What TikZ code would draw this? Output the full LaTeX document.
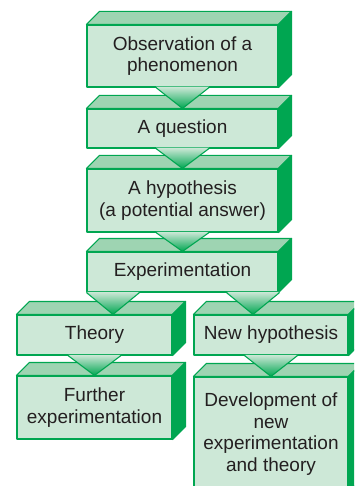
\documentclass[tikz,border=0pt]{standalone}
\usepackage{fontspec}
\setmainfont{Liberation Sans}
\usetikzlibrary{calc}
\definecolor{facegreen}{RGB}{205,232,215}
\definecolor{topgreen}{RGB}{158,212,178}
\definecolor{sidegreen}{RGB}{0,166,81}
\definecolor{inkgray}{RGB}{35,31,32}

\begin{document}
\begin{tikzpicture}[x=1pt, y=-1pt, line join=round,
  stage/.style={draw=sidegreen, line width=1.1pt, fill=facegreen, inner sep=0pt,
                align=center, text=inkgray, font=\fontsize{19}{21.5}\selectfont},
  topface/.style={draw=sidegreen, line width=1.1pt, fill=topgreen},
  sideface/.style={draw=sidegreen, line width=1.1pt, fill=sidegreen}]
  \useasboundingbox (0,0) rectangle (354,486);
  \clip (0,0) rectangle (354,486);
  \node[stage, minimum width=191pt, minimum height=62pt] (obs) at (182.5,56) {Observation of a\\phenomenon};
  \node[stage, minimum width=191pt, minimum height=39pt] (quest) at (182.5,128.5) {A question};
  \node[stage, minimum width=191pt, minimum height=63pt] (hypo) at (182.5,200.5) {A hypothesis\\(a potential answer)};
  \node[stage, minimum width=191pt, minimum height=40pt] (expt) at (182.5,272) {Experimentation};
  \node[stage, minimum width=155pt, minimum height=40pt] (theory) at (94.5,335) {Theory};
  \node[stage, minimum width=154pt, minimum height=40pt] (newhyp) at (271,335) {New hypothesis};
  \node[stage, minimum width=155pt, minimum height=63pt] (further) at (94.5,407.5) {Further\\experimentation};
  \node[stage, minimum width=154pt, minimum height=114pt] (devel) at (271,434) {Development of\\new\\experimentation\\and theory};
  % top and side of each box
  \foreach \n in {obs,quest,hypo,expt,theory,newhyp,further,devel} {
    \draw[topface] (\n.north west) -- ++(13,-13) -- ([shift={(13,-13)}]\n.north east) -- (\n.north east) -- cycle;
    \draw[sideface] (\n.north east) -- ++(13,-13) -- ([shift={(13,-13)}]\n.south east) -- (\n.south east) -- cycle;
  }
  % arrows between the boxes
  \foreach \src/\dst/\dx in {obs/quest/0, quest/hypo/0, hypo/expt/0, expt/theory/-69.5,
                             expt/newhyp/70.5, theory/further/0, newhyp/devel/0} {
    \coordinate (mouth) at ($(\src.south)+(\dx,0)$);
    \shade[top color=facegreen, middle color=sidegreen!50!facegreen, bottom color=sidegreen]
      ([shift={(-26.5,-0.8)}]mouth) -- ([shift={(26.5,-0.8)}]mouth) -- (mouth |- \dst.north) -- cycle;
    \draw[sidegreen, line width=1.1pt] ([xshift=-26.5pt]mouth) -- (mouth |- \dst.north) -- ([xshift=26.5pt]mouth);
  }
\end{tikzpicture}
\end{document}
